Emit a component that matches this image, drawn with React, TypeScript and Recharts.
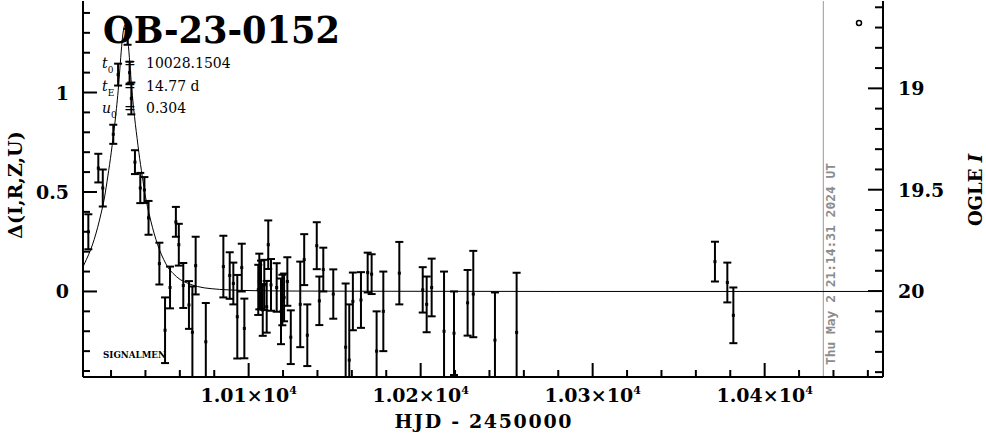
import React from 'react';
import { ComposedChart, Line, Scatter, XAxis, YAxis, ErrorBar, ReferenceLine, Legend } from 'recharts';

// ---- data ----
const hjd = [
  10006.8, 10012.6, 10015.2, 10021.3, 10024.1, 10029.6, 10030.8, 10031.8, 10033.9, 10037.0,
  10039.4, 10041.8, 10048.1, 10051.4, 10054.3, 10057.7, 10059.4, 10062.0, 10065.3, 10067.3,
  10069.2, 10075.1, 10085.3, 10089.0, 10091.1, 10093.4, 10096.0, 10097.5, 10105.6, 10106.2,
  10107.2, 10108.2, 10109.1, 10110.5, 10111.4, 10113.0, 10116.3, 10118.8, 10119.6, 10120.6,
  10122.5, 10124.5, 10130.0, 10132.3, 10134.1, 10139.6, 10141.1, 10143.4, 10149.2, 10156.4,
  10158.5, 10160.6, 10165.3, 10169.2, 10171.5, 10174.4, 10178.3, 10187.6, 10201.2, 10203.5,
  10206.4, 10213.6, 10219.4, 10227.3, 10230.6, 10243.2, 10255.8, 10371.1, 10378.3, 10381.8,
];
const delta = [
  0.30, 0.62, 0.52, 0.79, 1.09, 1.28, 1.10, 0.97, 0.65, 0.52,
  0.51, 0.37, 0.14, -0.195, 0.02, 0.35, 0.235, 0.03, -0.068, -0.205,
  0.13, -0.253, 0.125, 0.08, 0.04, -0.127, 0.12, -0.186, 0.008, 0.05,
  0.033, -0.093, 0.033, -0.077, 0.235, 0.033, 0.02, -0.1, -0.043, -0.03,
  0.05, -0.23, -0.065, 0.16, -0.22, 0.23, -0.047, 0.11, -0.013, -0.28,
  -0.345, -0.05, -0.043, 0.095, 0.087, -0.3, -0.1, 0.092, 0.008, -0.065,
  0.02, -0.2, -0.21, -0.057, -0.013, -0.245, -0.206, 0.15, 0.045, -0.12,
];
const deltaErr = [
  0.088, 0.072, 0.093, 0.048, 0.055, 0.04, 0.055, 0.08, 0.06, 0.076,
  0.065, 0.085, 0.105, 0.165, 0.105, 0.075, 0.105, 0.113, 0.12, 0.23,
  0.145, 0.195, 0.155, 0.117, 0.105, 0.21, 0.12, 0.15, 0.126, 0.14,
  0.122, 0.13, 0.126, 0.13, 0.122, 0.13, 0.122, 0.165, 0.127, 0.12,
  0.122, 0.135, 0.215, 0.128, 0.155, 0.118, 0.122, 0.11, 0.124, 0.32,
  0.28, 0.145, 0.14, 0.1, 0.1, 0.2, 0.2, 0.157, 0.114, 0.14,
  0.145, 0.3, 0.21, 0.165, 0.217, 0.24, 0.3, 0.1, 0.1, 0.14,
];

const modelHjd = [
  10003.5, 10005.65, 10008.15, 10010.15, 10012.15, 10014.15, 10016.15, 10018.15, 10020.15, 10021.15,
  10022.15, 10023.15, 10024.15, 10025.15, 10026.15, 10027.15, 10028.15, 10029.15, 10030.15, 10031.15,
  10032.15, 10033.15, 10034.15, 10035.15, 10036.15, 10038.15, 10040.15, 10042.15, 10044.15, 10046.15,
  10048.15, 10050.65, 10053.15, 10056.15, 10060.15, 10064.15, 10070.15, 10078.15, 10088.15, 10103.15,
  10128.15, 10178.15, 10278.15, 10469,
];
const modelDelta = [
  0.12, 0.16, 0.21, 0.26, 0.32, 0.39, 0.47, 0.58, 0.70, 0.77,
  0.84, 0.92, 1.01, 1.12, 1.23, 1.31, 1.34, 1.31, 1.23, 1.12,
  1.01, 0.92, 0.84, 0.77, 0.70, 0.58, 0.47, 0.39, 0.32, 0.26,
  0.21, 0.16, 0.12, 0.09, 0.06, 0.043, 0.025, 0.014, 0.008, 0.004,
  0.002, 0.001, 0, 0,
];

const xTicks = [
  10020, 10040, 10060, 10080, 10100, 10120, 10140, 10160, 10180, 10200, 10220, 10240,
  10260, 10280, 10300, 10320, 10340, 10360, 10380, 10400, 10420, 10440, 10460,
];
const xMajorTicks = [10100, 10200, 10300, 10400];
const xMajorLabels = ['1.01×10', '1.02×10', '1.03×10', '1.04×10'];
const xExpLabel = '4';

const yTicks = [-0.4, -0.3, -0.2, -0.1, 0, 0.1, 0.2, 0.3, 0.4, 0.5, 0.6, 0.7, 0.8, 0.9, 1, 1.1, 1.2, 1.3, 1.4];
const yMajorTicks = [0, 0.5, 1];
const yMajorLabels = ['0', '0.5', '1'];

const magTicks = [18.6, 18.7, 18.8, 18.9, 19, 19.1, 19.2, 19.3, 19.4, 19.5, 19.6, 19.7, 19.8, 19.9, 20, 20.1, 20.2, 20.3, 20.4];
const magMajorTicks = [19, 19.5, 20];
const magMajorLabels = ['19', '19.5', '20'];

const nowHjd = 10434.1;
const nowLabel = 'Thu May  2 21:14:31 2024 UT';
const eventName = 'OB-23-0152';
const t0Text = '10028.1504';
const tEText = '14.77 d';
const u0Text = '0.304';

const points = hjd.map((t, i) => ({ t, d: delta[i], e: deltaErr[i] }));
const model = modelHjd.map((t, i) => ({ t, d: modelDelta[i] }));

const SERIF = "'DejaVu Serif', serif";
const findIdx = (arr: number[], v: number) => arr.findIndex((m) => Math.abs(m - v) < 1e-6);

// plot-area layout
const PLOT = { left: 83, top: 1, width: 800, height: 376 };

function BottomTick(props: any) {
  const { x, y, payload } = props;
  const mi = findIdx(xMajorTicks, payload.value);
  const len = mi >= 0 ? 14 : 7;
  return (
    <g>
      <line x1={x} y1={y} x2={x} y2={y - len} stroke="#000" strokeWidth={2} />
      {mi >= 0 && (
        <text x={x} y={y + 25} textAnchor="middle" fontFamily={SERIF} fontWeight="bold" fontSize={19} fill="#000">
          {xMajorLabels[mi]}
          <tspan dy={-8} fontSize={11}>{xExpLabel}</tspan>
        </text>
      )}
    </g>
  );
}

function TopTick(props: any) {
  const { x, y, payload } = props;
  const mi = findIdx(xMajorTicks, payload.value);
  const len = mi >= 0 ? 14 : 7;
  return <line x1={x} y1={y} x2={x} y2={y + len} stroke="#000" strokeWidth={2} />;
}

function LeftTick(props: any) {
  const { x, y, payload } = props;
  const mi = findIdx(yMajorTicks, payload.value);
  const len = mi >= 0 ? 14 : 7;
  return (
    <g>
      <line x1={x} y1={y} x2={x + len} y2={y} stroke="#000" strokeWidth={2} />
      {mi >= 0 && (
        <text x={x - 14} y={y + 7} textAnchor="end" fontFamily={SERIF} fontWeight="bold" fontSize={19} fill="#000">
          {yMajorLabels[mi]}
        </text>
      )}
    </g>
  );
}

function RightTick(props: any) {
  const { x, y, payload } = props;
  const mi = findIdx(magMajorTicks, payload.value);
  const len = mi >= 0 ? 15 : 8;
  return (
    <g>
      <line x1={x} y1={y} x2={x - len} y2={y} stroke="#000" strokeWidth={2} />
      {mi >= 0 && (
        <text x={x + 15} y={y + 7} textAnchor="start" fontFamily={SERIF} fontWeight="bold" fontSize={19} fill="#000">
          {magMajorLabels[mi]}
        </text>
      )}
    </g>
  );
}

const Dot = (props: any) => {
  const { cx, cy } = props;
  if (cx == null || cy == null) return null;
  return <rect x={cx - 1.5} y={cy - 1.5} width={3} height={3} fill="#000" />;
};

const LegendMark = () => (
  <svg width={8} height={8} style={{ display: 'block' }}>
    <circle cx={4} cy={4} r={2.5} fill="none" stroke="#000" strokeWidth={1.5} />
  </svg>
);

export default function App() {
  return (
    <div style={{ position: 'absolute', left: 0, top: 0, width: 986, height: 434, background: '#fff' }}>
      <style>{'.recharts-scatter, .recharts-errorBars, .recharts-errorBar, .recharts-scatter-symbol { clip-path: url(#plotClipArea); }'}</style>
      <ComposedChart width={986} height={434} margin={{ top: 1, right: 0, bottom: 0, left: 0 }}>
        <defs>
          <clipPath id="plotClipArea">
            <rect x={PLOT.left} y={PLOT.top} width={PLOT.width} height={PLOT.height} />
          </clipPath>
        </defs>
        <XAxis
          xAxisId="b" dataKey="t" type="number" orientation="bottom" height={57}
          domain={[10003.7, 10468.8]} allowDataOverflow ticks={xTicks} interval={0}
          tickSize={0} tickMargin={0} tickLine={false}
          axisLine={{ stroke: '#000', strokeWidth: 2 }} tick={(p: any) => <BottomTick {...p} />}
        />
        <XAxis
          xAxisId="t" dataKey="t" type="number" orientation="top" height={0}
          domain={[10003.7, 10468.8]} allowDataOverflow ticks={xTicks} interval={0}
          tickSize={0} tickMargin={0} tickLine={false}
          axisLine={{ stroke: '#000', strokeWidth: 2 }} tick={(p: any) => <TopTick {...p} />}
        />
        <YAxis
          yAxisId="l" dataKey="d" type="number" orientation="left" width={83}
          domain={[-0.43, 1.46]} allowDataOverflow ticks={yTicks} interval={0}
          tickSize={0} tickMargin={0} tickLine={false}
          axisLine={{ stroke: '#000', strokeWidth: 2 }} tick={(p: any) => <LeftTick {...p} />}
        />
        <YAxis
          yAxisId="r" type="number" orientation="right" width={103} reversed
          domain={[18.569, 20.424]} allowDataOverflow ticks={magTicks} interval={0}
          tickSize={0} tickMargin={0} tickLine={false}
          axisLine={{ stroke: '#000', strokeWidth: 2 }} tick={(p: any) => <RightTick {...p} />}
        />
        <ReferenceLine xAxisId="b" yAxisId="l" x={nowHjd} stroke="#999" strokeWidth={1} ifOverflow="hidden" />
        <Line
          xAxisId="b" yAxisId="l" data={model} dataKey="d" type="monotone" dot={false}
          stroke="#000" strokeWidth={1} isAnimationActive={false} legendType="none"
        />
        <Scatter
          xAxisId="b" yAxisId="l" data={points} dataKey="d" shape={<Dot />}
          isAnimationActive={false} name="OGLE"
        >
          <ErrorBar dataKey="e" direction="y" width={4} stroke="#000" strokeWidth={2} isAnimationActive={false} />
        </Scatter>
        <Legend
          layout="vertical" align="center" verticalAlign="middle"
          content={() => <LegendMark />}
          wrapperStyle={{ position: 'absolute', left: 855, top: 19, width: 8, height: 8 }}
        />

        <text x={103} y={43} fontFamily={SERIF} fontWeight="bold" fontSize={38} fill="#000"
          textLength={237} lengthAdjust="spacingAndGlyphs">{eventName}</text>

        <text x={102} y={68} fontFamily={SERIF} fontSize={14} fill="#000">
          <tspan fontStyle="italic">t</tspan>
          <tspan dy={5} fontSize={9}>0</tspan>
          <tspan x={124} dy={-5}>=</tspan>
          <tspan x={146}>{t0Text}</tspan>
        </text>
        <text x={102} y={91} fontFamily={SERIF} fontSize={14} fill="#000">
          <tspan fontStyle="italic">t</tspan>
          <tspan dy={5} fontSize={9}>E</tspan>
          <tspan x={124} dy={-5}>=</tspan>
          <tspan x={146}>{tEText}</tspan>
        </text>
        <text x={102} y={113} fontFamily={SERIF} fontSize={14} fill="#000">
          <tspan fontStyle="italic">u</tspan>
          <tspan dy={5} fontSize={9}>0</tspan>
          <tspan x={124} dy={-5}>=</tspan>
          <tspan x={146}>{u0Text}</tspan>
        </text>

        <text x={103} y={358} fontFamily={SERIF} fontWeight="bold" fontSize={10} fill="#000"
          textLength={63} lengthAdjust="spacingAndGlyphs">SIGNALMEN</text>

        <text x={835} y={365} transform="rotate(-90, 835, 365)" fontFamily="'DejaVu Sans Mono', monospace"
          fontWeight="bold" fontSize={12.5} fill="#8c8c8c" textLength={202} lengthAdjust="spacingAndGlyphs">{nowLabel}</text>

        <text x={22} y={185} transform="rotate(-90, 22, 185)" textAnchor="middle" fontFamily={SERIF}
          fontWeight="bold" fontSize={19} fill="#000">Δ(I,R,Z,U)</text>

        <text x={982} y={190} transform="rotate(-90, 982, 190)" textAnchor="middle" fontFamily={SERIF}
          fontWeight="bold" fontSize={18} fill="#000">OGLE <tspan fontStyle="italic">I</tspan></text>

        <text x={483} y={428} textAnchor="middle" fontFamily={SERIF} fontWeight="bold" fontSize={19} fill="#000"
          textLength={177} lengthAdjust="spacing">HJD - 2450000</text>
      </ComposedChart>
    </div>
  );
}
